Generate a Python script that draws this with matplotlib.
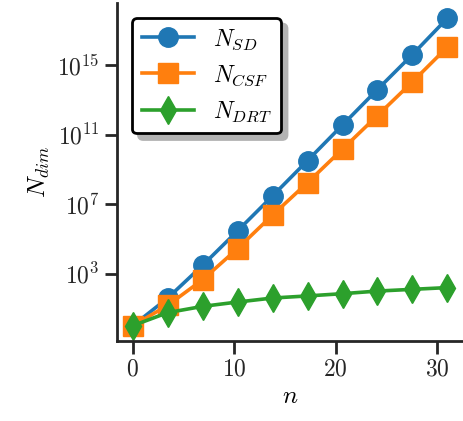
import matplotlib

matplotlib.use("Agg")
import matplotlib.pyplot as plt

# size parameter n and the dimensions of the three expansions (log10 read from the run)
n_values = [0, 3.44, 6.89, 10.33, 13.78, 17.22, 20.67, 24.11, 27.56, 31]
log_n_sd = [0.0, 1.59, 3.48, 5.46, 7.47, 9.50, 11.55, 13.59, 15.60, 17.69]
log_n_csf = [0.0, 1.17, 2.65, 4.44, 6.37, 8.23, 10.16, 12.09, 14.03, 16.03]
log_n_drt = [0.0, 0.75, 1.11, 1.36, 1.59, 1.71, 1.84, 1.99, 2.09, 2.19]

series = [
    (r"$N_{SD}$", log_n_sd, "o", "tab:blue"),
    (r"$N_{CSF}$", log_n_csf, "s", "tab:orange"),
    (r"$N_{DRT}$", log_n_drt, "d", "tab:green"),
]

plt.rcParams["font.family"] = "cmr10"
plt.rcParams["mathtext.fontset"] = "cm"
plt.rcParams["axes.formatter.use_mathtext"] = True

fig = plt.figure(figsize=(4.63, 4.21), dpi=100)
ax = fig.add_axes([0.253, 0.19, 0.747, 0.803])

for label, logs, marker, color in series:
    ax.plot(
        n_values,
        [10.0 ** v for v in logs],
        marker=marker,
        color=color,
        label=label,
        linewidth=2.6,
        markersize=14,
    )

ax.set_yscale("log")
ax.set_yticks([1e3, 1e7, 1e11, 1e15])
ax.minorticks_off()
ax.set_xticks([0, 10, 20, 30])

ax.set_xlabel(r"$n$", fontsize=18)
ax.set_ylabel(r"$N_{dim}$", fontsize=18)

for side in ("top", "right"):
    ax.spines[side].set_visible(False)
for side in ("left", "bottom"):
    ax.spines[side].set_linewidth(2)
    ax.spines[side].set_color("#262626")
ax.tick_params(axis="both", length=9, width=2, color="#262626", labelsize=17, labelcolor="#262626")

leg = ax.legend(
    loc="upper left",
    bbox_to_anchor=(0.03, 0.97),
    fontsize=17,
    numpoints=1,
    shadow={"ox": 4.5, "oy": -4.5, "color": "0.7", "alpha": 1},
    fancybox=True,
    framealpha=1,
    edgecolor="black",
    handlelength=2.2,
    borderaxespad=0.2,
)
leg.get_frame().set_linewidth(2)

fig.savefig("out.png", dpi=100)
plt.close(fig)
